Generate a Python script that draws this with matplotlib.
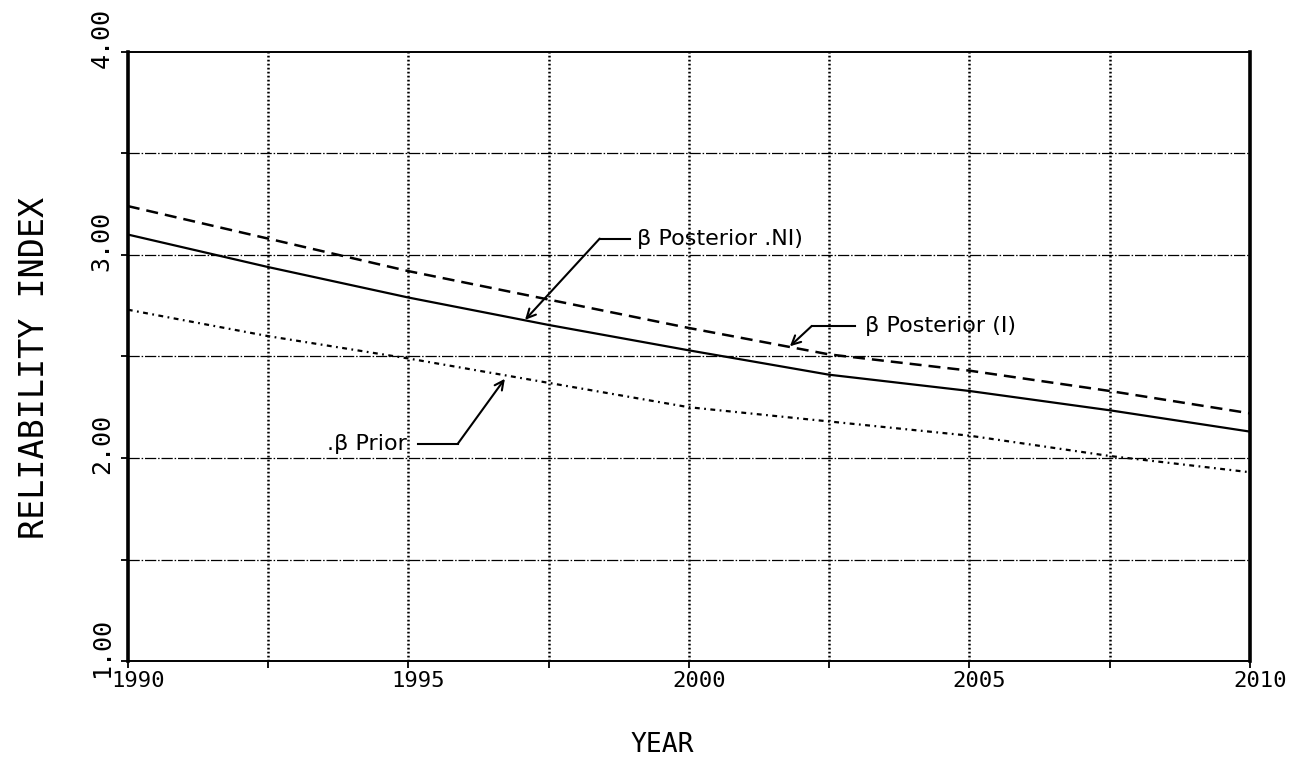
import matplotlib
matplotlib.use("Agg")
import matplotlib.pyplot as plt
import matplotlib.transforms as mtransforms

# ---- data ----
years = [1990, 1992.5, 1995, 1997.5, 2000, 2002.5, 2005, 2007.5, 2010]
beta_posterior_I = [3.24, 3.08, 2.92, 2.78, 2.64, 2.51, 2.43, 2.33, 2.22]
beta_posterior_NI = [3.10, 2.94, 2.79, 2.655, 2.53, 2.41, 2.33, 2.235, 2.13]
beta_prior = [2.73, 2.60, 2.49, 2.37, 2.25, 2.18, 2.11, 2.01, 1.93]

x_ticks = [1990, 1992.5, 1995, 1997.5, 2000, 2002.5, 2005, 2007.5, 2010]
x_labels = ["1990", "", "1995", "", "2000", "", "2005", "", "2010"]
y_ticks = [1.0, 1.5, 2.0, 2.5, 3.0, 3.5, 4.0]
y_labels = ["1.00", "", "2.00", "", "3.00", "", "4.00"]

# annotation labels: text, text anchor (x, y), leader start, elbow, arrow tip
ann_texts = ["β Posterior .NI)", "β Posterior (I)", ".β Prior"]
ann_text_xy = [(1999.07, 3.08), (2003.14, 2.65), (1993.55, 2.07)]
ann_line_start = [(1998.95, 3.08), (2002.96, 2.65), (1995.17, 2.07)]
ann_elbow = [(1998.41, 3.08), (2002.19, 2.65), (1995.88, 2.07)]
ann_tip = [(1997.08, 2.68), (2001.80, 2.55), (1996.72, 2.39)]

fig = plt.figure(figsize=(13.04, 7.6), dpi=100)
ax = fig.add_axes([0.098, 0.130, 0.8606, 0.802])

ax.set_xlim(1990, 2010)
ax.set_ylim(1.0, 4.0)

# grid
for xv in x_ticks[1:-1]:
    ax.axvline(xv, color="black", lw=1.8, linestyle=(0, (0.7, 0.9)), zorder=1)
for yv in y_ticks[1:-1]:
    ax.axhline(yv, color="black", lw=0.9, linestyle=(0, (9, 1.5, 1.2, 1.5)), zorder=1)

# series
ax.plot(years, beta_posterior_I, color="black", lw=1.8, linestyle=(0, (4.8, 2.8)), zorder=3)
ax.plot(years, beta_posterior_NI, color="black", lw=1.6, linestyle="-", zorder=3)
ax.plot(years, beta_prior, color="black", lw=1.6, linestyle=(0, (2.2, 2.0, 0.8, 2.0)), zorder=3)

# annotations
for t, txy, ls, el, tip in zip(ann_texts, ann_text_xy, ann_line_start, ann_elbow, ann_tip):
    ax.text(txy[0], txy[1], t, ha="left", va="center", fontsize=16,
            family="DejaVu Sans", color="black", zorder=5)
    ax.plot([ls[0], el[0]], [ls[1], el[1]], color="black", lw=1.5, zorder=4)
    ax.annotate("", xy=tip, xytext=el,
                arrowprops=dict(arrowstyle="->", lw=1.5, color="black",
                                shrinkA=0, shrinkB=0, mutation_scale=16),
                zorder=4)

# spines
for s in ["left", "right"]:
    ax.spines[s].set_linewidth(2.6)
for s in ["top", "bottom"]:
    ax.spines[s].set_linewidth(1.4)

# ticks
ax.set_xticks(x_ticks)
ax.set_xticklabels([""] * len(x_ticks))
ax.set_yticks(y_ticks)
ax.set_yticklabels([""] * len(y_ticks))
ax.tick_params(axis="both", direction="out", length=5, width=1.3, color="black")

# tick labels drawn as text at the tick values
xtrans = mtransforms.blended_transform_factory(ax.transData, ax.transAxes)
xtrans = xtrans + mtransforms.ScaledTranslation(10 / 100, -20 / 100, fig.dpi_scale_trans)
for xv, lab in zip(x_ticks, x_labels):
    if lab:
        ax.text(xv, 0, lab, transform=xtrans, ha="center", va="center",
                fontsize=16, family="DejaVu Sans Mono", color="black")

ytrans = mtransforms.blended_transform_factory(ax.transAxes, ax.transData)
ytrans = ytrans + mtransforms.ScaledTranslation(-26 / 100, 14 / 100, fig.dpi_scale_trans)
for yv, lab in zip(y_ticks, y_labels):
    if lab:
        ax.text(0, yv, lab, transform=ytrans, ha="center", va="center", rotation=90,
                fontsize=18, family="DejaVu Sans Mono", color="black")

fig.text(662 / 1304, 1 - 745 / 760, "YEAR", ha="center", va="center",
         fontsize=19, family="DejaVu Sans Mono", color="black")
fig.text(35 / 1304, 1 - 368 / 760, "RELIABILITY INDEX", ha="center", va="center",
         rotation=90, fontsize=24, family="DejaVu Sans Mono", color="black")

fig.savefig("out.png", dpi=100, facecolor="white")
